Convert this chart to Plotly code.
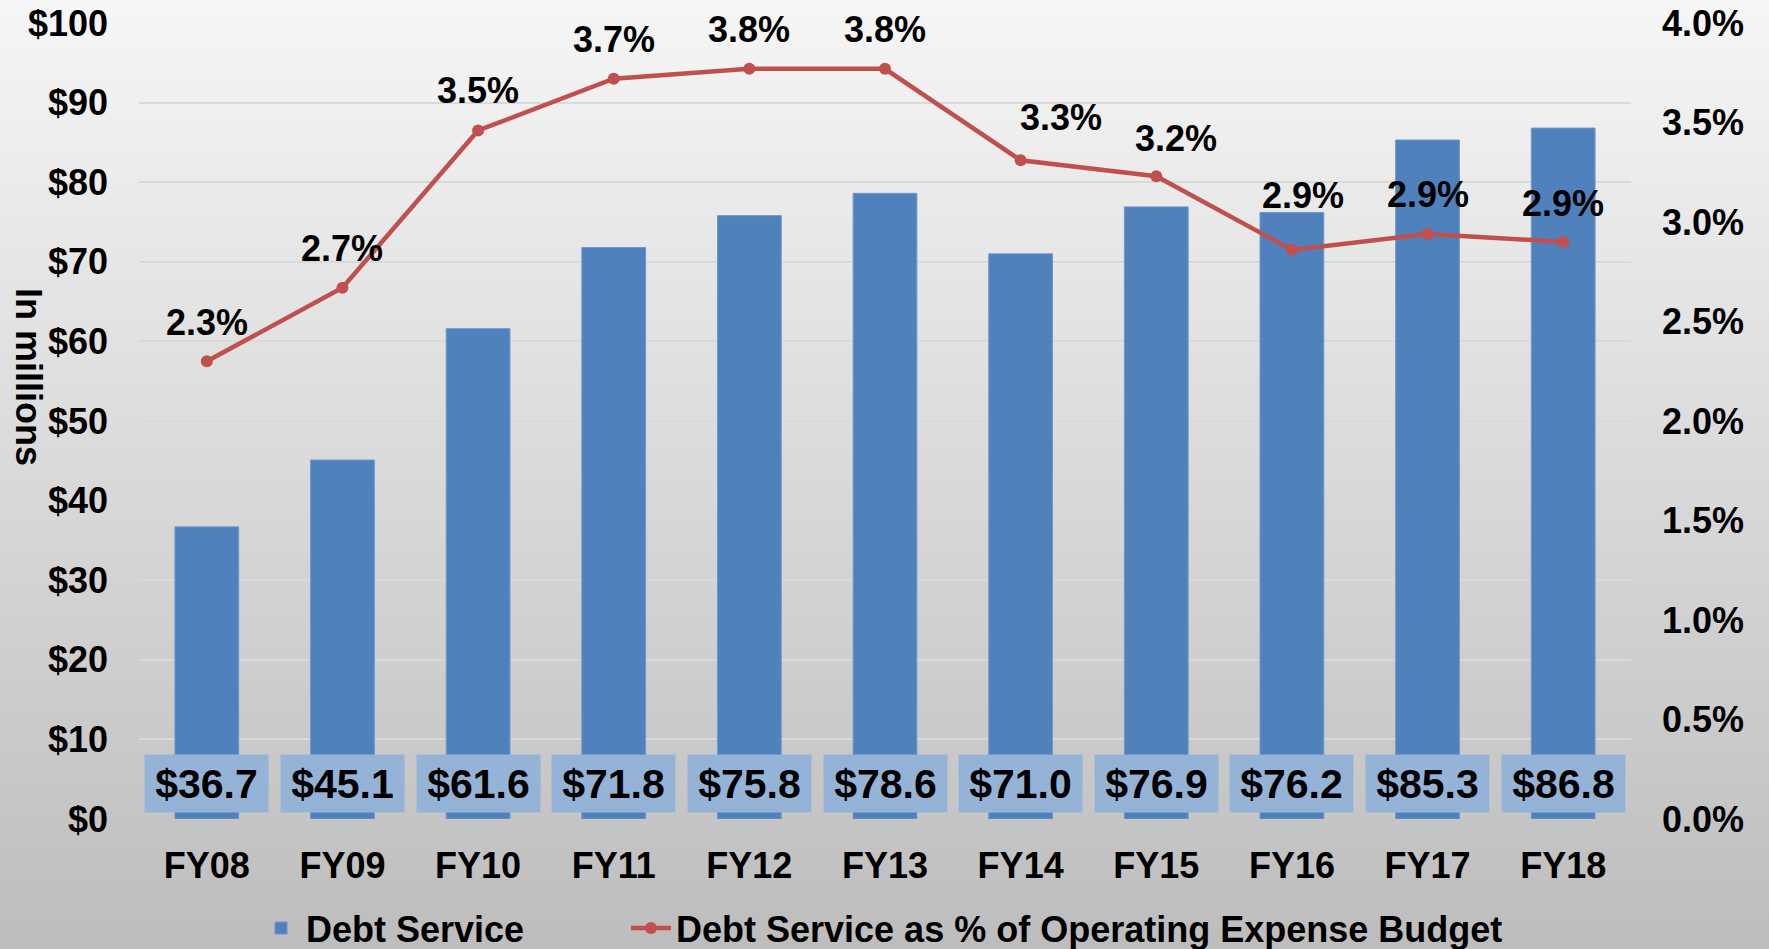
import base64
import plotly.graph_objects as go

categories = ["FY08", "FY09", "FY10", "FY11", "FY12", "FY13", "FY14", "FY15", "FY16", "FY17", "FY18"]
debt_service = [36.7, 45.1, 61.6, 71.8, 75.8, 78.6, 71.0, 76.9, 76.2, 85.3, 86.8]
pct_of_budget = [2.30, 2.67, 3.46, 3.72, 3.77, 3.77, 3.31, 3.23, 2.86, 2.94, 2.90]
y_ticks = list(range(0, 101, 10))
y2_ticks = [0, 0.5, 1.0, 1.5, 2.0, 2.5, 3.0, 3.5, 4.0]

# label offsets (pixels) for the percentage data labels, as placed in the original
pct_label_dx = [0, 0, 0, 0, 0, 0, 40, 20, 11, 0, 0]
pct_label_dy = [39, 39, 40, 39, 39, 39, 43, 38, 54, 39, 38]

W, H = 1769, 949
ML, MR, MT, MB = 139, 138, 23, 130
FONT = "Liberation Sans, Arial, sans-serif"
BLACK = "#000000"

fig = go.Figure()
fig.add_trace(go.Bar(
    x=categories, y=debt_service, name="<b>Debt Service</b>",
    marker=dict(color="#4F81BD", line=dict(color="#6F97C8", width=1)),
    width=0.47, yaxis="y", legend="legend",
))
fig.add_trace(go.Scatter(
    x=categories, y=pct_of_budget, name="<b>Debt Service as % of Operating Expense Budget</b>",
    mode="lines+markers", yaxis="y2", legend="legend2",
    line=dict(color="#C0504D", width=4.5),
    marker=dict(color="#C0504D", size=12),
    cliponaxis=False,
))

for c, v, dx, dy in zip(categories, pct_of_budget, pct_label_dx, pct_label_dy):
    fig.add_annotation(
        x=c, y=v, xref="x", yref="y2", text=f"<b>{v:.1f}%</b>",
        showarrow=False, font=dict(family=FONT, size=36, color=BLACK),
        xanchor="center", yanchor="middle", xshift=dx, yshift=dy,
    )

for c, v in zip(categories, debt_service):
    fig.add_annotation(
        x=c, y=4.45, xref="x", yref="y", text=f"<b>${v:.1f}</b>",
        showarrow=False, bgcolor="#95B3D7", font=dict(family=FONT, size=41, color=BLACK),
        width=117, height=51, borderpad=3, xanchor="center", yanchor="middle",
    )

pw, ph = W - ML - MR, H - MT - MB
fig.add_annotation(
    x=-(ML - 29) / pw, y=(H - MB - 377) / ph,
    xref="paper", yref="paper", text="<b>In millions</b>", textangle=90,
    showarrow=False, font=dict(family=FONT, size=36, color=BLACK),
    xanchor="center", yanchor="middle",
)

svg = ('<svg xmlns="http://www.w3.org/2000/svg" width="100" height="100" preserveAspectRatio="none">'
       '<defs><linearGradient id="g" x1="0" y1="0" x2="0" y2="1">'
       '<stop offset="0" stop-color="#F6F6F6"/><stop offset="1" stop-color="#BDBDBD"/>'
       '</linearGradient></defs><rect width="100" height="100" fill="url(#g)"/></svg>')
src = "data:image/svg+xml;base64," + base64.b64encode(svg.encode()).decode()
fig.add_layout_image(
    source=src, xref="paper", yref="paper",
    x=-ML / pw, y=1 + MT / ph, sizex=W / pw, sizey=H / ph,
    sizing="stretch", xanchor="left", yanchor="top", layer="below",
)

legend_common = dict(
    orientation="h", yref="container", y=0.022, yanchor="middle", xref="container", xanchor="left",
    font=dict(family=FONT, size=36, color=BLACK), bgcolor="rgba(0,0,0,0)", itemwidth=40,
)

fig.update_layout(
    width=W, height=H,
    margin=dict(l=ML, r=MR, t=MT, b=MB, autoexpand=False),
    paper_bgcolor="#DADADA", plot_bgcolor="rgba(0,0,0,0)",
    font=dict(family=FONT, size=36, color=BLACK),
    showlegend=True,
    legend=dict(x=256 / W, **legend_common),
    legend2=dict(x=626 / W, **legend_common),
    xaxis=dict(
        type="category", categoryorder="array", categoryarray=categories,
        range=[-0.5, len(categories) - 0.5],
        tickvals=categories, ticktext=[f"<b>{c}</b>" for c in categories],
        showgrid=False, showline=False, zeroline=False, ticks="", automargin=False,
        tickfont=dict(family=FONT, size=36, color=BLACK), ticklabelstandoff=22,
    ),
    yaxis=dict(
        range=[0, 100], tickvals=y_ticks, ticktext=[f"<b>${t}</b>" for t in y_ticks],
        showgrid=True, gridcolor="#D9D9D9", gridwidth=2, zeroline=False, showline=False,
        tickfont=dict(family=FONT, size=36, color=BLACK), ticklabelstandoff=30, ticks="",
        automargin=False,
    ),
    yaxis2=dict(
        range=[0, 4], tickvals=y2_ticks, ticktext=[f"<b>{t:.1f}%</b>" for t in y2_ticks],
        overlaying="y", side="right", showgrid=False, zeroline=False, showline=False,
        tickfont=dict(family=FONT, size=36, color=BLACK), ticklabelstandoff=30, ticks="",
        automargin=False,
    ),
)

fig.write_html("out.html", config={"displayModeBar": False},
               post_script="document.body.style.margin='0';")
